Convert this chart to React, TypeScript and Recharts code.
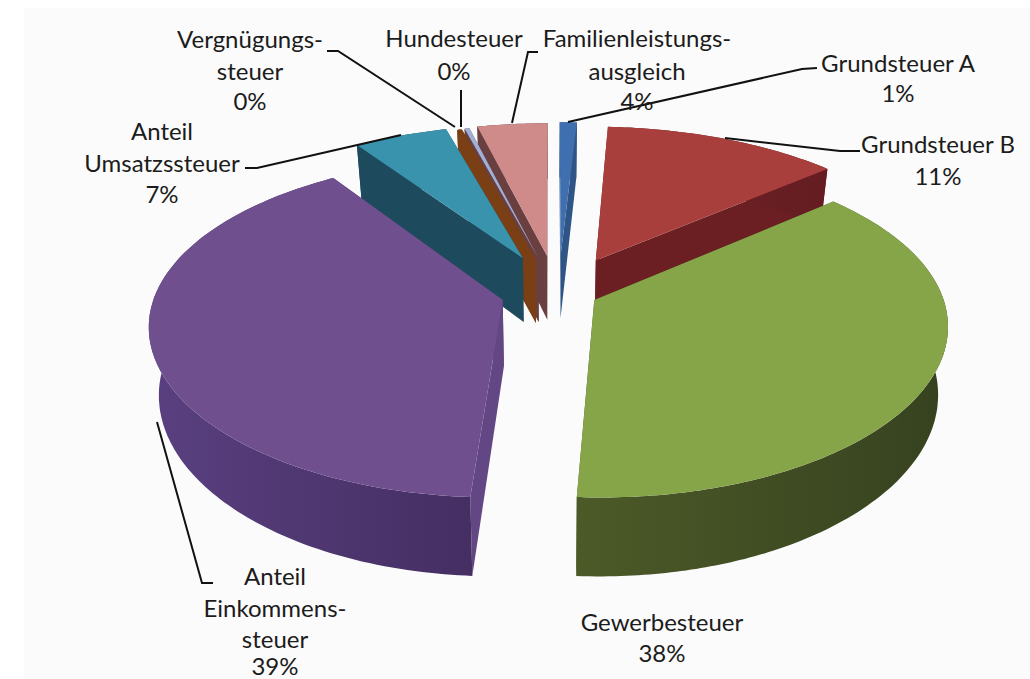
import { PieChart, Pie } from 'recharts'

// Slices are listed counterclockwise starting at Grundsteuer B, so that the
// paint order of the sectors puts the front slices over the back ones.
const CATEGORIES = [
  'Grundsteuer B',
  'Grundsteuer A',
  'Familienleistungsausgleich',
  'Hundesteuer',
  'Vergnügungssteuer',
  'Anteil Umsatzssteuer',
  'Anteil Einkommensteuer',
  'Gewerbesteuer',
]
const SHARES = [10.6, 0.9, 4.4, 0.35, 0.35, 6.5, 38.5, 38.4]

const data = CATEGORIES.map((name, i) => ({ name, value: SHARES[i] }))

// top face, cut face, wall left, wall right
const FACE_COLORS: Record<string, string[]> = {
  'Grundsteuer A': ['#3f6fae', '#2f5587', '#2f5587', '#2f5587'],
  'Grundsteuer B': ['#a83f3d', '#6b1f23', '#6f2226', '#651d21'],
  Gewerbesteuer: ['#86a548', '#4a5c2a', '#4c5a28', '#36421f'],
  'Anteil Einkommensteuer': ['#6f4f8e', '#634785', '#5a4080', '#442e62'],
  'Anteil Umsatzssteuer': ['#3a93ad', '#1d4a5c', '#1d4a5c', '#1d4a5c'],
  Vergnügungssteuer: ['#7a3f14', '#7a3f14', '#7a3f14', '#7a3f14'],
  Hundesteuer: ['#9fb0d8', '#6a3f3f', '#6a3f3f', '#6a3f3f'],
  Familienleistungsausgleich: ['#cf8a8a', '#6a3f3f', '#6a3f3f', '#6a3f3f'],
}

// how far each slice is pulled out of the pie, sideways and backwards on the disk
const PULL: Record<string, number[]> = {
  'Grundsteuer A': [9, 82],
  'Grundsteuer B': [45, 69],
  Gewerbesteuer: [42, -17],
  'Anteil Einkommensteuer': [-49, -17],
  'Anteil Umsatzssteuer': [-30, 74],
  Vergnügungssteuer: [-17, 72],
  Hundesteuer: [-14, 74],
  Familienleistungsausgleich: [-5, 79],
}

type LabelSpec = { x: number; lines: string[]; ys: number[]; leader?: number[][] }

const LABELS: Record<string, LabelSpec> = {
  'Grundsteuer A': {
    x: 898,
    lines: ['Grundsteuer A', '1%'],
    ys: [62, 92],
    leader: [[817, 68], [802, 69], [568, 122]],
  },
  'Grundsteuer B': {
    x: 938,
    lines: ['Grundsteuer B', '11%'],
    ys: [143, 175],
    leader: [[860, 151], [840, 151], [725, 138]],
  },
  Gewerbesteuer: { x: 662, lines: ['Gewerbesteuer', '38%'], ys: [621, 652] },
  'Anteil Einkommensteuer': {
    x: 275,
    lines: ['Anteil', 'Einkommens-', 'steuer', '39%'],
    ys: [575, 607, 638, 665],
    leader: [[157, 422], [202, 583], [213, 583]],
  },
  'Anteil Umsatzssteuer': {
    x: 162,
    lines: ['Anteil', 'Umsatzssteuer', '7%'],
    ys: [130, 162, 193],
    leader: [[245, 168], [257, 168], [401, 135]],
  },
  Vergnügungssteuer: {
    x: 250,
    lines: ['Vergnügungs-', 'steuer', '0%'],
    ys: [38, 70, 100],
    leader: [[327, 51], [338, 51], [455, 127]],
  },
  Hundesteuer: { x: 454, lines: ['Hundesteuer', '0%'], ys: [37, 70], leader: [[461, 90], [461, 127]] },
  Familienleistungsausgleich: {
    x: 637,
    lines: ['Familienleistungs-', 'ausgleich', '4%'],
    ys: [37, 70, 100],
    leader: [[538, 52], [528, 52], [512, 123]],
  },
}

const CX = 552
const CY = 292
const RADIUS = 347
const SQUASH = 0.472
const PERSP_X = 0.0004
const PERSP_Y = 0.00045
const THICKNESS = 66
const BOTTOM_SHRINK = 0.025
const DIAGONAL_WARP = 7.5
const FRONT_WARP = 3.8

// disk coordinates to page, depth 0 is the top face and 1 the bottom one
function project(u: number, v: number, depth: number) {
  const sx = 1 / (1 + v * PERSP_X)
  const sy = 1 / (1 + v * PERSP_Y)
  return [CX + u * sx * (1 - depth * BOTTOM_SHRINK), CY - v * SQUASH * sy + depth * THICKNESS * sy]
}

const toPath = (pts: number[][]) =>
  pts.map((p, i) => `${i ? 'L' : 'M'}${p[0].toFixed(1)},${p[1].toFixed(1)}`).join('') + 'Z'

// the tilted view opens up the diagonal sectors and turns the front ones a little
function warpAngle(deg: number) {
  const rad = (deg * Math.PI) / 180
  const s = Math.sin(2 * rad)
  const front = (1 + Math.sin(rad)) / 2 // 0 at the front of the disk, 1 at the back
  return ((deg - DIAGONAL_WARP * s * s - FRONT_WARP * (1 - front)) * Math.PI) / 180
}

function Slice3D(props: any) {
  const { startAngle, endAngle, outerRadius, name } = props
  const colors = FACE_COLORS[name]
  const [ou, ov] = PULL[name]
  const rim: number[][] = []
  const steps = Math.max(2, Math.ceil(Math.abs(startAngle - endAngle)))
  for (let i = 0; i <= steps; i++) {
    const a = warpAngle(startAngle + ((endAngle - startAngle) * i) / steps)
    rim.push([ou + outerRadius * Math.cos(a), ov + outerRadius * Math.sin(a)])
  }
  const at = (p: number[], d: number) => project(p[0], p[1], d)
  const apex = [ou, ov]
  const first = rim[0]
  const last = rim[rim.length - 1]
  const gradId = `wall-${name.replace(/[^A-Za-z]/g, '')}`
  return (
    <g>
      <defs>
        <linearGradient id={gradId} x1="0" y1="0" x2="1" y2="0">
          <stop offset="0" stopColor={colors[2]} />
          <stop offset="1" stopColor={colors[3]} />
        </linearGradient>
      </defs>
      <path d={toPath([at(apex, 0), at(first, 0), at(first, 1), at(apex, 1)])} fill={colors[1]} />
      <path d={toPath([at(apex, 0), at(last, 0), at(last, 1), at(apex, 1)])} fill={colors[1]} />
      <path
        d={toPath([...rim.map((p) => at(p, 0)), ...[...rim].reverse().map((p) => at(p, 1))])}
        fill={`url(#${gradId})`}
      />
      <path d={toPath([at(apex, 0), ...rim.map((p) => at(p, 0))])} fill={colors[0]} />
    </g>
  )
}

function SliceLabel(props: any) {
  const spec = LABELS[props.name]
  return (
    <g>
      {spec.leader && (
        <polyline
          points={spec.leader.map((p) => p.join(',')).join(' ')}
          fill="none"
          stroke="#111"
          strokeWidth={2}
        />
      )}
      {spec.lines.map((line, i) => (
        <text
          key={line}
          x={spec.x}
          y={spec.ys[i]}
          textAnchor="middle"
          dominantBaseline="central"
          fontFamily="Lato, sans-serif"
          fontSize={24}
          fill="#1c1c1c"
        >
          {line}
        </text>
      ))}
    </g>
  )
}

export default function App() {
  return (
    <div style={{ position: 'absolute', left: 0, top: 0, width: 1030, height: 679, background: '#fff' }}>
      <div style={{ position: 'absolute', left: 24, top: 8, right: 0, bottom: 0, background: '#fbfbfb' }} />
      <div style={{ position: 'absolute', left: 0, top: 0 }}>
        <PieChart width={1030} height={679} margin={{ top: 0, right: 0, bottom: 0, left: 0 }}>
          <Pie
            data={data}
            dataKey="value"
            nameKey="name"
            cx={CX}
            cy={CY}
            outerRadius={RADIUS}
            startAngle={48.6}
            endAngle={408.6}
            stroke="none"
            shape={Slice3D}
            label={SliceLabel}
            labelLine={false}
            isAnimationActive={false}
          />
        </PieChart>
      </div>
    </div>
  )
}
